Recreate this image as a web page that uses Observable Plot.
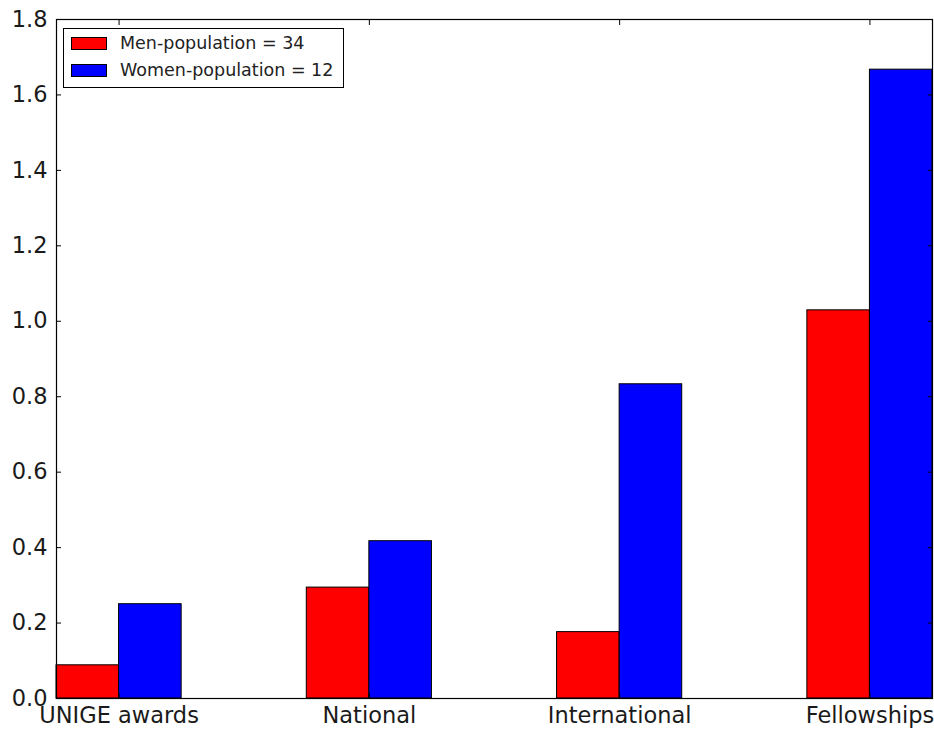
<!DOCTYPE html>
<html>
<head>
<meta charset="utf-8">
<script src="https://cdn.jsdelivr.net/npm/d3@7"></script>
<script src="https://cdn.jsdelivr.net/npm/@observablehq/plot@0.6"></script>
<style>
  html, body { margin: 0; padding: 0; background: #fff; }
  #wrap { position: relative; width: 934px; height: 729px; font-family: "DejaVu Sans", sans-serif; color: #000; }
  #legend { position: absolute; left: 63px; top: 28px; width: 279px; height: 58px; border: 1px solid #000; background: #fff; box-sizing: content-box; }
  .item { position: absolute; left: 7px; height: 20px; display: flex; align-items: center; font-size: 17.5px; color: #222; white-space: nowrap; }
  .sw { width: 34px; height: 11px; border: 1px solid #000; margin-right: 13px; }
</style>
</head>
<body>
<div id="wrap"></div>
<script>
const categories = ["UNIGE awards", "National", "International", "Fellowships"];
const men = [0.088, 0.294, 0.176, 1.029];
const women = [0.25, 0.417, 0.833, 1.667];
const seriesNames = ["Men-population = 34", "Women-population = 12"];
const seriesColors = ["#ff0000", "#0000ff"];
const yTicks = [0, 0.2, 0.4, 0.6, 0.8, 1.0, 1.2, 1.4, 1.6, 1.8];
const barWidth = 0.25;

const data = categories.flatMap((c, i) => [
  {x1: i, x2: i + barWidth, y: men[i], s: 0},
  {x1: i + barWidth, x2: i + 2 * barWidth, y: women[i], s: 1}
]);
const xTicks = categories.map((c, i) => i + barWidth);

const chart = Plot.plot({
  width: 934,
  height: 729,
  marginTop: 19,
  marginBottom: 31,
  marginLeft: 56,
  marginRight: 2,
  style: {fontFamily: "DejaVu Sans, sans-serif", color: "#000", background: "#fff", overflow: "visible"},
  x: {type: "linear", domain: [0, 3.5]},
  y: {domain: [0, 1.8]},
  marks: [
    Plot.rectY(data, {x1: "x1", x2: "x2", y: "y", fill: d => seriesColors[d.s], stroke: "#000", strokeWidth: 1}),
    Plot.frame({stroke: "#000", strokeWidth: 1.2}),
    Plot.axisY({anchor: "left", ticks: yTicks, tickSize: -5, tickPadding: 14, tickFormat: d3.format(".1f"), fontSize: 22.5, label: null, fill: "#1a1a1a"}),
    Plot.axisY({anchor: "right", ticks: yTicks, tickSize: -5, tickFormat: () => "", label: null}),
    Plot.axisX({anchor: "bottom", ticks: xTicks, tickSize: -5, tickPadding: 14, tickFormat: (d, i) => categories[xTicks.indexOf(d)], fontSize: 22.5, label: null, fill: "#1a1a1a"}),
    Plot.axisX({anchor: "top", ticks: xTicks, tickSize: -5, tickFormat: () => "", label: null})
  ]
});

const wrap = document.getElementById("wrap");
wrap.appendChild(chart);

const legend = document.createElement("div");
legend.id = "legend";
seriesNames.forEach((name, i) => {
  const item = document.createElement("div");
  item.className = "item";
  item.style.top = (4 + i * 27) + "px";
  const sw = document.createElement("span");
  sw.className = "sw";
  sw.style.background = seriesColors[i];
  const t = document.createElement("span");
  t.textContent = name;
  item.appendChild(sw);
  item.appendChild(t);
  legend.appendChild(item);
});
wrap.appendChild(legend);
</script>
</body>
</html>
